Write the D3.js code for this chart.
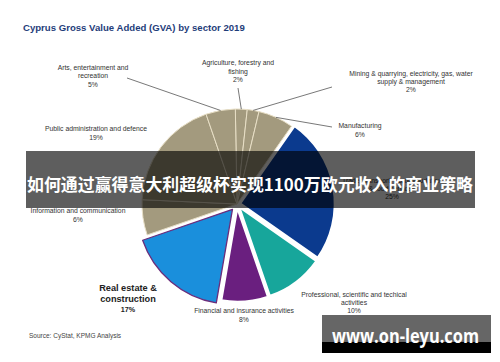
<!DOCTYPE html>
<html>
<head>
<meta charset="utf-8">
<script src="https://cdn.jsdelivr.net/npm/d3@7"></script>
<style>
  body { margin: 0; background: #fff; }
  svg { display: block; font-family: "Liberation Sans", Arial, sans-serif; }
</style>
</head>
<body>
<svg id="chart" width="500" height="362"></svg>
<script>
// sector data, clockwise from the top
const sectors = [
  "Agriculture", "Mining", "Manufacturing", "Trade", "Professional",
  "Financial", "Real estate", "Information", "Public administration", "Arts"
];
const shares = [2, 2, 6, 25, 10, 8, 17, 6, 19, 5];
const labelLines = [
  ["Agriculture, forestry and", "fishing", "2%"],
  ["Mining & quarrying, electricity, gas, water", "supply & management", "2%"],
  ["Manufacturing", "6%"],
  ["Trade, transport, accommodation", "& food services", "25%"],
  ["Professional, scientific and techical", "activities", "10%"],
  ["Financial and insurance activities", "8%"],
  ["Real estate &", "construction", "17%"],
  ["Information and communication", "6%"],
  ["Public administration and defence", "19%"],
  ["Arts, entertainment and", "recreation", "5%"]
];
const title = "Cyprus Gross Value Added (GVA) by sector 2019";
const source = "Source: CyStat, KPMG Analysis";
const bannerText = "如何通过赢得意大利超级杯实现1100万欧元收入的商业策略";
const watermark = "www.on-leyu.com";

// layout
const cx = 237, cy = 204, r = 95;
const tan = "#a39a7e";
const fills = {
  "Trade": "#0b3a8e",
  "Professional": "#17a69b",
  "Financial": "#6a1f7f",
  "Real estate": "#1a8fdc"
};
const explode = { "Trade": 3, "Professional": 3, "Financial": 3, "Real estate": 7 };
const labelPos = {
  "Agriculture": [238, 63, 8.3],
  "Mining": [411, 73.5, 8.2],
  "Manufacturing": [360, 126, 8.2],
  "Trade": [392, 180.5, 8.2],
  "Professional": [354, 294.5, 8],
  "Financial": [244, 311, 8.3],
  "Real estate": [128, 289, 11],
  "Information": [78, 211, 8.5],
  "Public administration": [96, 129, 8.3],
  "Arts": [93, 67.3, 8.5]
};
const leaderStart = {
  "Arts": [127, 78],
  "Agriculture": [238, 88],
  "Mining": [332, 87],
  "Manufacturing": [332, 127]
};

const svg = d3.select("#chart");

svg.append("text")
  .attr("x", 23).attr("y", 30.5)
  .attr("font-size", 9.6).attr("font-weight", "bold")
  .attr("fill", "#1f3d7a")
  .text(title);

const data = sectors.map((s, i) => ({ name: s, value: shares[i], lines: labelLines[i] }));
const deg = Math.PI / 180;
const pie = d3.pie().sort(null).value(d => d.value)
  .startAngle(-1 * deg).endAngle(359 * deg);
const arcs = pie(data);
const arc = d3.arc().innerRadius(0).outerRadius(r);

const g = svg.append("g").attr("transform", `translate(${cx},${cy})`);

g.selectAll("path")
  .data(arcs)
  .join("path")
  .attr("transform", d => {
    const off = explode[d.data.name] || 0;
    const a = (d.startAngle + d.endAngle) / 2;
    return `translate(${off * Math.sin(a)},${-off * Math.cos(a)})`;
  })
  .attr("d", arc)
  .attr("fill", d => fills[d.data.name] || tan)
  .attr("stroke", d => d.data.name === "Real estate" ? "#6b2d7c" : (fills[d.data.name] ? "#fff" : "#e8dfc6"))
  .attr("stroke-width", d => d.data.name === "Real estate" ? 1.3 : (fills[d.data.name] ? 2.5 : 1))
  .attr("stroke-linejoin", "round");

// leader lines
arcs.filter(d => leaderStart[d.data.name]).forEach(d => {
  const a = (d.startAngle + d.endAngle) / 2;
  const [sx, sy] = leaderStart[d.data.name];
  svg.append("line")
    .attr("x1", sx).attr("y1", sy)
    .attr("x2", cx + r * Math.sin(a)).attr("y2", cy - r * Math.cos(a))
    .attr("stroke", "#555").attr("stroke-width", 0.8);
});

// labels
arcs.forEach(d => {
  const [x, y, lh] = labelPos[d.data.name];
  const bold = d.data.name === "Real estate";
  const t = svg.append("text")
    .attr("text-anchor", "middle")
    .attr("fill", bold ? "#222" : "#333")
    .attr("font-weight", bold ? "bold" : "normal")
    .attr("font-size", bold ? 9.2 : 6.8);
  d.data.lines.forEach((line, i) => {
    const last = bold && i === d.data.lines.length - 1;
    t.append("tspan")
      .attr("x", x)
      .attr("y", y + i * lh - (last ? 1.5 : 0) + 2.4)
      .attr("font-size", last ? 7.2 : null)
      .text(line);
  });
});

svg.append("text")
  .attr("x", 29).attr("y", 337.5)
  .attr("font-size", 6.5).attr("fill", "#444")
  .text(source);

// overlay banner
svg.append("rect")
  .attr("x", 26).attr("y", 151).attr("width", 449).attr("height", 57)
  .attr("fill", "#000").attr("opacity", 0.63);
svg.append("text")
  .attr("x", 27).attr("y", 190.5)
  .attr("font-family", "'Noto Sans CJK SC', sans-serif")
  .attr("font-size", 17).attr("font-weight", "bold")
  .attr("fill", "#fff")
  .attr("textLength", 446).attr("lengthAdjust", "spacingAndGlyphs")
  .text(bannerText);

// watermark
svg.append("rect")
  .attr("x", 322).attr("y", 315).attr("width", 169).attr("height", 27)
  .attr("fill", "#000").attr("opacity", 0.6);
svg.append("rect")
  .attr("x", 322).attr("y", 342).attr("width", 169).attr("height", 11)
  .attr("fill", "#000");
svg.append("text")
  .attr("x", 332).attr("y", 343)
  .attr("font-family", "'Open Sans', 'DejaVu Sans', sans-serif")
  .attr("font-size", 19).attr("font-weight", "bold")
  .attr("fill", "#fff")
  .attr("textLength", 147).attr("lengthAdjust", "spacingAndGlyphs")
  .text(watermark);
</script>
</body>
</html>
